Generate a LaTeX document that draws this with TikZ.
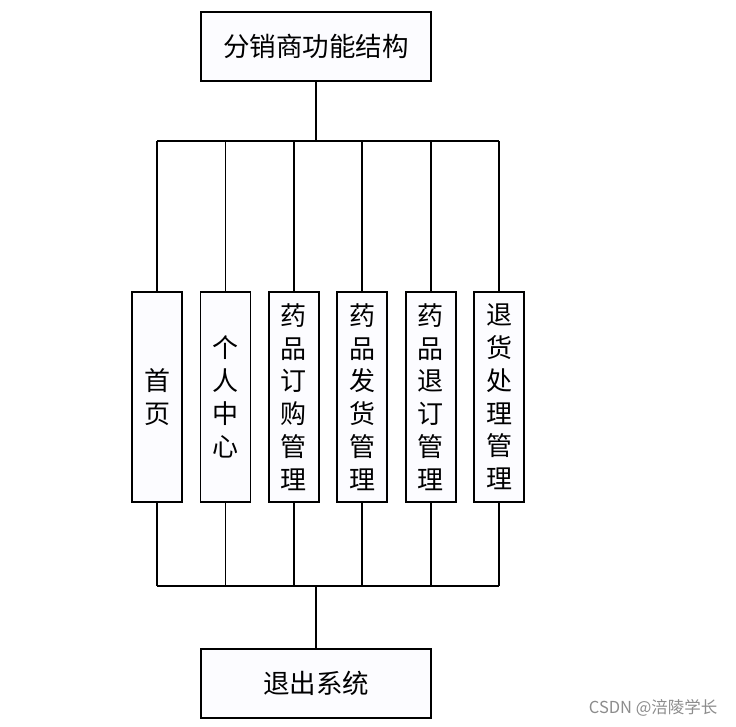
\documentclass[tikz,border=0pt]{standalone}
\usepackage{fontspec}
\setmainfont{Liberation Sans}
\newfontfamily\cjk{Noto Sans CJK SC}
\usepackage{xcolor}
\usetikzlibrary{positioning, calc}

\tikzset{
  mainbox/.style={draw, line width=1.8pt, fill=blue!1, minimum width=230pt,
                  minimum height=69pt, inner sep=0pt,
                  font=\cjk\fontsize{26.5}{30}\selectfont},
  funcbox/.style={draw, line width=1.8pt, fill=blue!1, minimum width=50pt,
                  minimum height=210pt, inner sep=0pt, align=center,
                  font=\cjk\fontsize{26}{32.8}\selectfont},
  link/.style={line width=1.8pt},
}

\begin{document}
\begin{tikzpicture}[x=1pt, y=1pt]
  \useasboundingbox (0,0) rectangle (736,-726);
  \node[mainbox] (top) at (316,-46.5) {分销商功能结构};
  % function modules
  \node[funcbox] (f1) at (157,-397) {首\\页};
  \node[funcbox, right=16.6pt of f1] (f2) {个\\人\\中\\心};
  \node[funcbox, right=16.6pt of f2] (f3) {药\\品\\订\\购\\管\\理};
  \node[funcbox, right=16.6pt of f3] (f4) {药\\品\\发\\货\\管\\理};
  \node[funcbox, right=16.6pt of f4] (f5) {药\\品\\退\\订\\管\\理};
  \node[funcbox, right=16.6pt of f5] (f6) {退\\货\\处\\理\\管\\理};
  \node[mainbox] (quit) at (316,-683.5) {退出系统};
  % buses
  \coordinate (tbus) at (316,-141);
  \coordinate (bbus) at (316,-586);
  \draw[link] (top.south) -- (tbus);
  \draw[link] (f1.north |- tbus) -- (f6.north |- tbus);
  \draw[link] (f1.south |- bbus) -- (f6.south |- bbus);
  \draw[link] (bbus) -- (quit.north);
  \foreach \i in {1,...,6} {
    \draw[link] (f\i.north |- tbus) -- (f\i.north);
    \draw[link] (f\i.south) -- (f\i.south |- bbus);
  }
  \node[font=\cjk\fontsize{16.5}{18}\selectfont, text=black!45, anchor=east]
    (mark) at (721,-708) {CSDN @涪陵学长};
\end{tikzpicture}
\end{document}
